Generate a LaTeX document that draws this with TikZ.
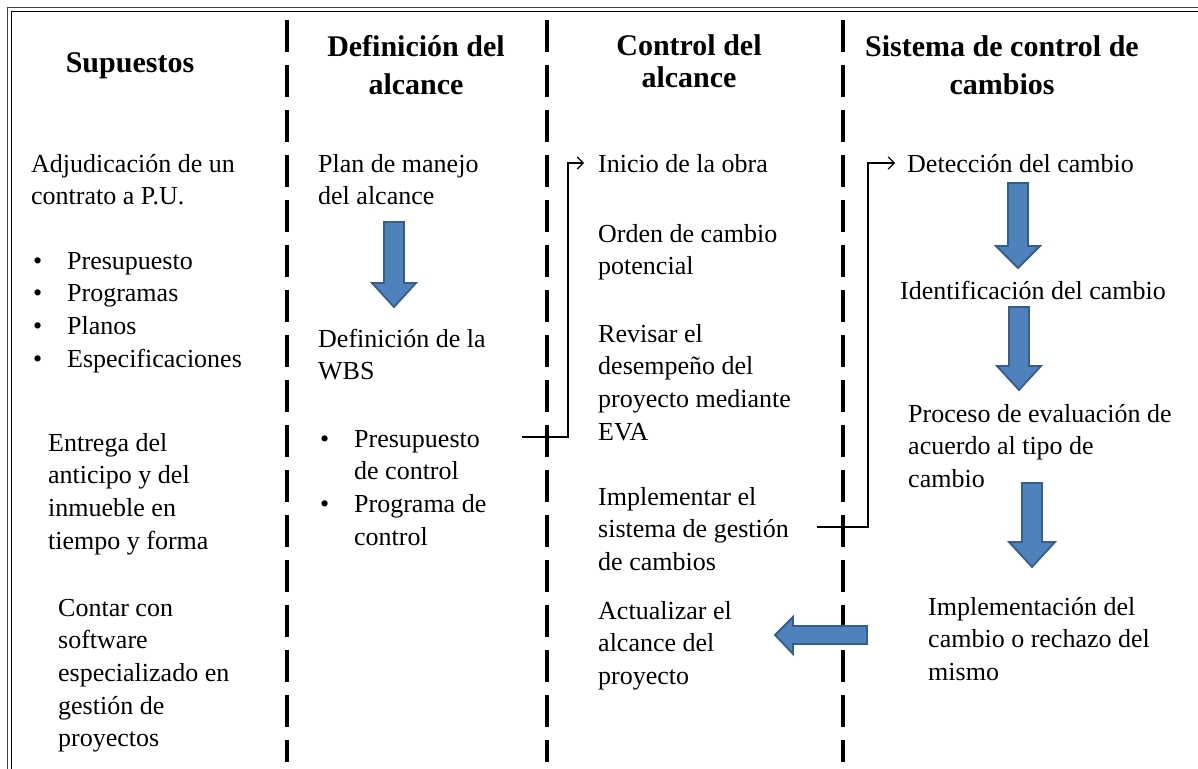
\documentclass[tikz,border=0pt]{standalone}
\usepackage{fontspec}
\setmainfont{Liberation Serif}
\usetikzlibrary{arrows.meta}
\definecolor{arrfill}{HTML}{4F81BD}
\definecolor{arrline}{HTML}{385D8A}
\newcommand\bodyf{\fontsize{26}{32.7}\selectfont}
\newcommand\headf{\fontsize{30}{38}\selectfont\bfseries}
\newcommand\headg{\fontsize{30}{32}\selectfont\bfseries}
\newcommand\bul{\makebox[34pt][l]{•}}
\newcommand\ind{\hspace*{34pt}}
\begin{document}
\begin{tikzpicture}[x=1pt,y=-1pt,
  body/.style={font=\bodyf, align=left, anchor=base west, inner sep=0pt},
  head/.style={font=\headf, align=center, anchor=base, inner sep=0pt},
  sep/.style={line width=3.5pt, dash pattern=on 32pt off 13pt},
  blockarrow/.style={fill=arrfill, draw=arrline, line width=1.8pt, line join=miter},
  conn/.style={line width=1.2pt, -{Straight Barb[length=6pt,width=12pt,line width=1.2pt]}}]
\useasboundingbox (0,0) rectangle (1198,768);
% border
\draw[line width=1.5pt, black!75] (7.5,800) -- (7.5,7.5) -- (1250,7.5);
\draw[line width=1.5pt, black] (11.5,800) -- (11.5,11.5) -- (1250,11.5);
% separators
\draw[sep] (287,20) -- (287,762);
\draw[sep] (547,20) -- (547,762);
\draw[sep] (843,20) -- (843,762);
% headings (base anchor = baseline of last line)
\node[head] (h1) at (130,73) {Supuestos};
\node[head] (h2) at (416,94) {Definición del\\alcance};
\node[head, font=\headg] (h3) at (689,87) {Control del\\alcance};
\node[head] (h4) at (1002,94) {Sistema de control de\\cambios};
% column 1
\node[body] (adj) at (31,204.7) {Adjudicación de un\\contrato a P.U.};
\node[body] (lst1) at (33,367.1) {\bul Presupuesto\\\bul Programas\\\bul Planos\\\bul Especificaciones};
\node[body] (entrega) at (48,549.1) {Entrega del\\anticipo y del\\inmueble en\\tiempo y forma};
\node[body] (contar) at (58,746.8) {Contar con\\software\\especializado en\\gestión de\\proyectos};
% column 2
\node[body] (plan) at (318,204.7) {Plan de manejo\\del alcance};
\node[body] (wbs) at (318,379.7) {Definición de la\\WBS};
\node[body] (lst2) at (320,545.1) {\bul Presupuesto\\\ind de control\\\bul Programa de\\\ind control};
% column 3
\node[body] (inicio) at (598,172) {Inicio de la obra};
\node[body] (orden) at (598,274.7) {Orden de cambio\\potencial};
\node[body] (revisar) at (598,440.1) {Revisar el\\desempeño del\\proyecto mediante\\EVA};
\node[body] (implem) at (598,570.4) {Implementar el\\sistema de gestión\\de cambios};
\node[body] (actual) at (598,684.4) {Actualizar el\\alcance del\\proyecto};
% column 4
\node[body] (detec) at (907,172) {Detección del cambio};
\node[body] (ident) at (900,299) {Identificación del cambio};
\node[body] (proceso) at (908,487.4) {Proceso de evaluación de\\acuerdo al tipo de\\cambio};
\node[body] (implcam) at (928,680.4) {Implementación del\\cambio o rechazo del\\mismo};
% block arrows
\draw[blockarrow] (384,222) -- (404,222) -- (404,283) -- (416,283) -- (394,307) -- (372,283) -- (384,283) -- cycle;
\draw[blockarrow] (1008,183) -- (1028,183) -- (1028,246) -- (1040,246) -- (1018,268) -- (996,246) -- (1008,246) -- cycle;
\draw[blockarrow] (1009,307) -- (1029,307) -- (1029,366) -- (1041,366) -- (1019,390) -- (997,366) -- (1009,366) -- cycle;
\draw[blockarrow] (1022,483) -- (1042,483) -- (1042,542) -- (1055,542) -- (1032,567) -- (1009,542) -- (1022,542) -- cycle;
\draw[blockarrow] (867,626) -- (867,644) -- (793,644) -- (793,654) -- (775,635) -- (793,617) -- (793,626) -- cycle;
% connectors
\coordinate (c1) at (522,437);
\coordinate (c2) at (817,527);
\coordinate (t1) at (584,163);
\coordinate (t2) at (895,163);
\draw[conn] (c1) -- (568,437) |- (t1);
\draw[conn] (c2) -- (868,527) |- (t2);
\end{tikzpicture}
\end{document}
